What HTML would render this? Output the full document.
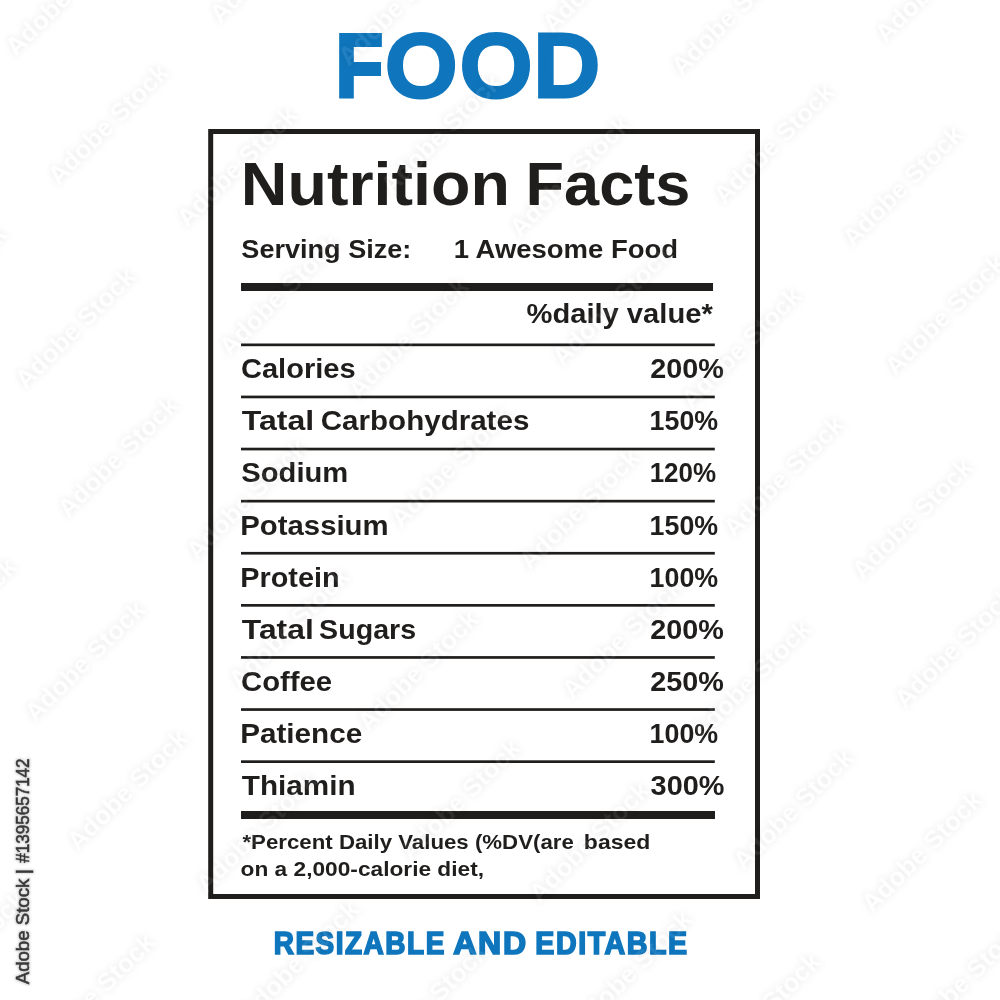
<!DOCTYPE html>
<html lang="en"><head><meta charset="utf-8"><title>Food Nutrition Facts</title>
<style>
html,body{margin:0;padding:0;background:#fff;}
body{width:1000px;height:1000px;overflow:hidden;}
svg{display:block;font-family:"Liberation Sans",sans-serif;font-weight:700;fill:#201e1d;}
text{white-space:pre;}
</style></head><body>
<svg width="1000" height="1000" viewBox="0 0 1000 1000">
<defs>
<filter id="wm" filterUnits="userSpaceOnUse" x="0" y="0" width="1000" height="1000" color-interpolation-filters="sRGB">
<feGaussianBlur in="SourceAlpha" stdDeviation="3.7" result="b"/>
<feComposite in="b" in2="SourceAlpha" operator="out" result="g"/>
<feColorMatrix in="g" type="matrix" values="0 0 0 0 0  0 0 0 0 0  0 0 0 0 0  0 0 0 0.095 0" result="glow"/>
<feColorMatrix in="SourceAlpha" type="matrix" values="0 0 0 0 1  0 0 0 0 1  0 0 0 0 1  0 0 0 0.08 0" result="w"/>
<feMerge><feMergeNode in="glow"/><feMergeNode in="w"/></feMerge>
</filter>
<filter id="halo" filterUnits="userSpaceOnUse" x="0" y="0" width="1000" height="1000" color-interpolation-filters="sRGB">
<feMorphology in="SourceAlpha" operator="dilate" radius="1.4" result="d"/>
<feGaussianBlur in="d" stdDeviation="0.9" result="db"/>
<feColorMatrix in="db" type="matrix" values="0 0 0 0 0.85  0 0 0 0 0.85  0 0 0 0 0.85  0 0 0 1 0" result="h"/>
<feMerge><feMergeNode in="h"/><feMergeNode in="SourceGraphic"/></feMerge>
</filter>
</defs>
<rect width="1000" height="1000" fill="#ffffff"/>
<rect x="210.7" y="131.5" width="546.8" height="765" fill="none" stroke="#201e1d" stroke-width="5"/>
<g fill="#201e1d">
<rect x="241" y="283" width="472" height="8"/>
<rect x="241" y="343.50" width="473.8" height="2.7"/>
<rect x="241" y="395.60" width="473.8" height="2.7"/>
<rect x="241" y="447.70" width="473.8" height="2.7"/>
<rect x="241" y="499.80" width="473.8" height="2.7"/>
<rect x="241" y="551.90" width="473.8" height="2.7"/>
<rect x="241" y="604.00" width="473.8" height="2.7"/>
<rect x="241" y="656.10" width="473.8" height="2.7"/>
<rect x="241" y="708.20" width="473.8" height="2.7"/>
<rect x="241" y="760.30" width="473.8" height="2.7"/>
<rect x="241" y="811" width="474" height="8"/>
</g>
<text><tspan x="335.66" y="96.90" textLength="47.23" lengthAdjust="spacingAndGlyphs" font-size="89.24" fill="#0f76bd" stroke="#0f76bd" stroke-width="4.0">F</tspan><tspan x="386.86" y="95.40" textLength="68.94" lengthAdjust="spacingAndGlyphs" font-size="84.88" font-weight="400" fill="#0f76bd" stroke="#0f76bd" stroke-width="7.0">O</tspan><tspan x="461.45" y="95.40" textLength="69.14" lengthAdjust="spacingAndGlyphs" font-size="84.88" font-weight="400" fill="#0f76bd" stroke="#0f76bd" stroke-width="7.0">O</tspan><tspan x="534.40" y="95.40" textLength="63.80" lengthAdjust="spacingAndGlyphs" font-size="84.88" font-weight="400" fill="#0f76bd" stroke="#0f76bd" stroke-width="7.0">D</tspan></text>
<text><tspan x="240.88" y="205.00" textLength="269.04" lengthAdjust="spacingAndGlyphs" font-size="61.05">Nutrition</tspan> <tspan x="525.58" y="205.00" textLength="164.85" lengthAdjust="spacingAndGlyphs" font-size="61.05">Facts</tspan></text>
<text><tspan x="241.37" y="258.00" textLength="170.02" lengthAdjust="spacingAndGlyphs" font-size="26.60">Serving Size:</tspan> <tspan x="453.67" y="258.00" textLength="224.38" lengthAdjust="spacingAndGlyphs" font-size="26.60">1 Awesome Food</tspan></text>
<text><tspan x="526.47" y="323.40" textLength="186.26" lengthAdjust="spacingAndGlyphs" font-size="26.89">%daily value*</tspan></text>
<text><tspan x="241.00" y="378.20" textLength="114.61" lengthAdjust="spacingAndGlyphs" font-size="27.03">Calories</tspan> <tspan x="650.30" y="378.20" textLength="73.64" lengthAdjust="spacingAndGlyphs" font-size="27.03">200%</tspan></text>
<text><tspan x="241.83" y="430.30" textLength="72.45" lengthAdjust="spacingAndGlyphs" font-size="27.03">Tatal</tspan> <tspan x="320.78" y="430.30" textLength="208.58" lengthAdjust="spacingAndGlyphs" font-size="27.03">Carbohydrates</tspan> <tspan x="649.61" y="430.30" textLength="68.47" lengthAdjust="spacingAndGlyphs" font-size="27.03">150%</tspan></text>
<text><tspan x="241.29" y="482.40" textLength="107.03" lengthAdjust="spacingAndGlyphs" font-size="27.03">Sodium</tspan> <tspan x="649.66" y="482.40" textLength="66.51" lengthAdjust="spacingAndGlyphs" font-size="27.03">120%</tspan></text>
<text><tspan x="240.23" y="534.50" textLength="148.42" lengthAdjust="spacingAndGlyphs" font-size="27.03">Potassium</tspan> <tspan x="649.61" y="534.50" textLength="68.47" lengthAdjust="spacingAndGlyphs" font-size="27.03">150%</tspan></text>
<text><tspan x="240.27" y="586.60" textLength="99.30" lengthAdjust="spacingAndGlyphs" font-size="27.03">Protein</tspan> <tspan x="649.61" y="586.60" textLength="68.58" lengthAdjust="spacingAndGlyphs" font-size="27.03">100%</tspan></text>
<text><tspan x="241.84" y="638.70" textLength="71.93" lengthAdjust="spacingAndGlyphs" font-size="27.03">Tatal</tspan> <tspan x="319.11" y="638.70" textLength="97.05" lengthAdjust="spacingAndGlyphs" font-size="27.03">Sugars</tspan> <tspan x="650.30" y="638.70" textLength="73.64" lengthAdjust="spacingAndGlyphs" font-size="27.03">200%</tspan></text>
<text><tspan x="240.99" y="690.80" textLength="91.12" lengthAdjust="spacingAndGlyphs" font-size="27.03">Coffee</tspan> <tspan x="650.30" y="690.80" textLength="73.64" lengthAdjust="spacingAndGlyphs" font-size="27.03">250%</tspan></text>
<text><tspan x="240.21" y="742.90" textLength="122.03" lengthAdjust="spacingAndGlyphs" font-size="27.03">Patience</tspan> <tspan x="649.61" y="742.90" textLength="68.58" lengthAdjust="spacingAndGlyphs" font-size="27.03">100%</tspan></text>
<text><tspan x="241.86" y="795.00" textLength="113.76" lengthAdjust="spacingAndGlyphs" font-size="27.03">Thiamin</tspan> <tspan x="650.58" y="795.00" textLength="73.86" lengthAdjust="spacingAndGlyphs" font-size="27.03">300%</tspan></text>
<text><tspan x="242.46" y="849.40" textLength="331.33" lengthAdjust="spacingAndGlyphs" font-size="20.06">*Percent Daily Values (%DV(are</tspan> <tspan x="583.88" y="849.40" textLength="66.42" lengthAdjust="spacingAndGlyphs" font-size="20.06">based</tspan></text>
<text><tspan x="240.59" y="875.60" textLength="243.45" lengthAdjust="spacingAndGlyphs" font-size="20.06">on a 2,000-calorie diet,</tspan></text>
<text><tspan x="273.68" y="953.55" textLength="172.15" lengthAdjust="spacingAndGlyphs" font-size="31.25" fill="#0f76bd" stroke="#0f76bd" stroke-width="1.7" letter-spacing="1.7">RESIZABLE</tspan> <tspan x="453.15" y="953.55" textLength="74.65" lengthAdjust="spacingAndGlyphs" font-size="31.25" fill="#0f76bd" stroke="#0f76bd" stroke-width="1.7" letter-spacing="1.7">AND</tspan> <tspan x="535.36" y="953.55" textLength="153.33" lengthAdjust="spacingAndGlyphs" font-size="31.25" fill="#0f76bd" stroke="#0f76bd" stroke-width="1.7" letter-spacing="1.7">EDITABLE</tspan></text>
<text transform="translate(0 1000) rotate(-90)" filter="url(#halo)"><tspan x="15.71" y="29.12" textLength="105.61" lengthAdjust="spacingAndGlyphs" font-size="19.11" font-weight="400" fill="#383838" stroke="#383838" stroke-width="0.55">Adobe Stock</tspan> <tspan x="125.56" y="29.12" textLength="5.67" lengthAdjust="spacingAndGlyphs" font-size="19.11" font-weight="400" fill="#383838" stroke="#383838" stroke-width="0.55">|</tspan> <tspan x="137.37" y="28.83" textLength="104.22" lengthAdjust="spacingAndGlyphs" font-size="18.53" font-weight="400" fill="#383838" stroke="#383838" stroke-width="0.55">#1395657142</tspan></text>
<g filter="url(#wm)" font-size="25.9" text-anchor="middle" fill="#000">
<text transform="translate(-57.0 -41.0) rotate(-45)">Adobe Stock</text>
<text transform="translate(71.8 1.5) rotate(-45)">Adobe Stock</text>
<text transform="translate(-47.3 291.9) rotate(-45)">Adobe Stock</text>
<text transform="translate(114.3 130.3) rotate(-45)">Adobe Stock</text>
<text transform="translate(275.9 -31.3) rotate(-45)">Adobe Stock</text>
<text transform="translate(81.5 334.4) rotate(-45)">Adobe Stock</text>
<text transform="translate(243.1 172.8) rotate(-45)">Adobe Stock</text>
<text transform="translate(404.6 11.2) rotate(-45)">Adobe Stock</text>
<text transform="translate(-37.6 624.7) rotate(-45)">Adobe Stock</text>
<text transform="translate(124.0 463.1) rotate(-45)">Adobe Stock</text>
<text transform="translate(285.6 301.6) rotate(-45)">Adobe Stock</text>
<text transform="translate(447.1 140.0) rotate(-45)">Adobe Stock</text>
<text transform="translate(608.7 -21.6) rotate(-45)">Adobe Stock</text>
<text transform="translate(91.2 667.2) rotate(-45)">Adobe Stock</text>
<text transform="translate(252.8 505.6) rotate(-45)">Adobe Stock</text>
<text transform="translate(414.3 344.1) rotate(-45)">Adobe Stock</text>
<text transform="translate(575.9 182.5) rotate(-45)">Adobe Stock</text>
<text transform="translate(737.5 20.9) rotate(-45)">Adobe Stock</text>
<text transform="translate(-27.9 957.5) rotate(-45)">Adobe Stock</text>
<text transform="translate(133.7 796.0) rotate(-45)">Adobe Stock</text>
<text transform="translate(295.2 634.4) rotate(-45)">Adobe Stock</text>
<text transform="translate(456.8 472.8) rotate(-45)">Adobe Stock</text>
<text transform="translate(618.4 311.2) rotate(-45)">Adobe Stock</text>
<text transform="translate(780.0 149.7) rotate(-45)">Adobe Stock</text>
<text transform="translate(941.5 -11.9) rotate(-45)">Adobe Stock</text>
<text transform="translate(100.9 1000.0) rotate(-45)">Adobe Stock</text>
<text transform="translate(262.4 838.5) rotate(-45)">Adobe Stock</text>
<text transform="translate(424.0 676.9) rotate(-45)">Adobe Stock</text>
<text transform="translate(585.6 515.3) rotate(-45)">Adobe Stock</text>
<text transform="translate(747.2 353.7) rotate(-45)">Adobe Stock</text>
<text transform="translate(908.7 192.2) rotate(-45)">Adobe Stock</text>
<text transform="translate(1070.3 30.6) rotate(-45)">Adobe Stock</text>
<text transform="translate(304.9 967.2) rotate(-45)">Adobe Stock</text>
<text transform="translate(466.5 805.7) rotate(-45)">Adobe Stock</text>
<text transform="translate(628.1 644.1) rotate(-45)">Adobe Stock</text>
<text transform="translate(789.7 482.5) rotate(-45)">Adobe Stock</text>
<text transform="translate(951.2 320.9) rotate(-45)">Adobe Stock</text>
<text transform="translate(433.7 1009.7) rotate(-45)">Adobe Stock</text>
<text transform="translate(595.3 848.2) rotate(-45)">Adobe Stock</text>
<text transform="translate(756.8 686.6) rotate(-45)">Adobe Stock</text>
<text transform="translate(918.4 525.0) rotate(-45)">Adobe Stock</text>
<text transform="translate(637.8 976.9) rotate(-45)">Adobe Stock</text>
<text transform="translate(799.3 815.3) rotate(-45)">Adobe Stock</text>
<text transform="translate(960.9 653.8) rotate(-45)">Adobe Stock</text>
<text transform="translate(766.5 1019.4) rotate(-45)">Adobe Stock</text>
<text transform="translate(928.1 857.8) rotate(-45)">Adobe Stock</text>
<text transform="translate(970.6 986.6) rotate(-45)">Adobe Stock</text>
</g>
</svg>
</body></html>
